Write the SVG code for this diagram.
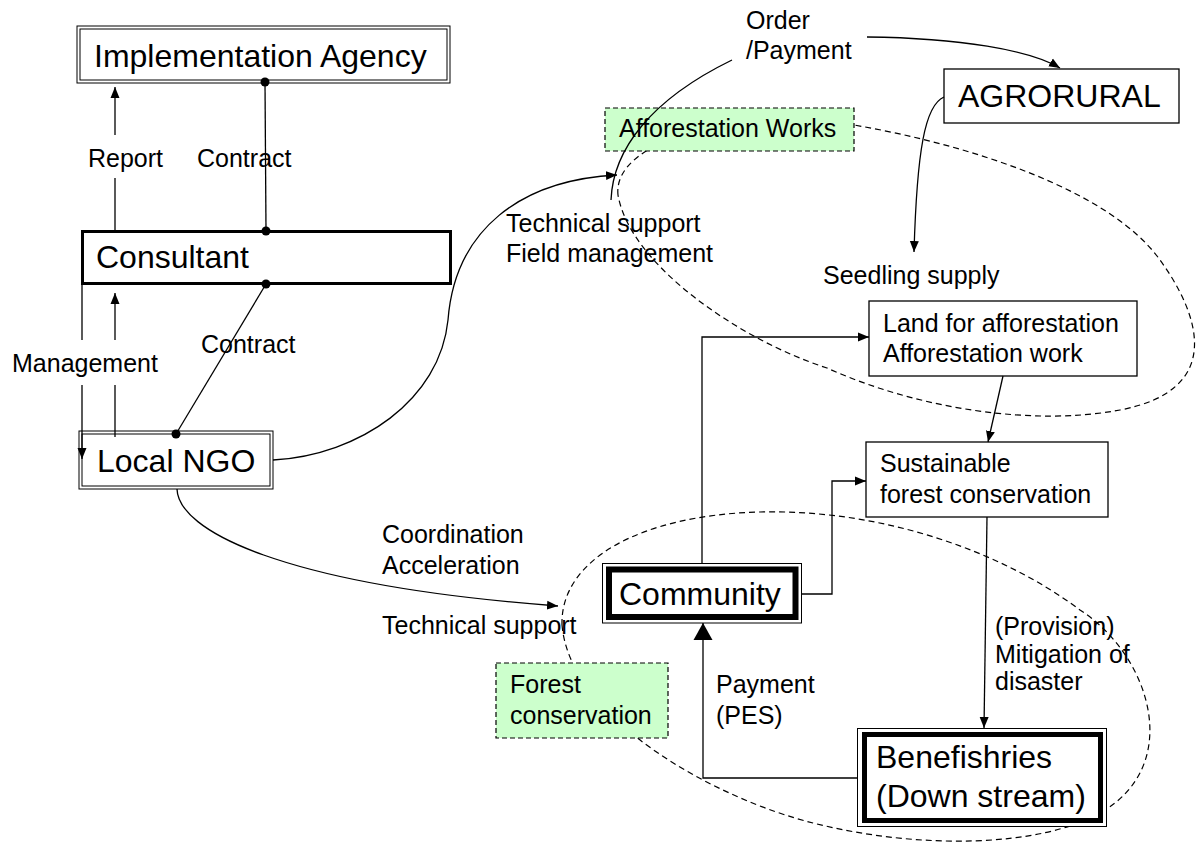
<svg xmlns="http://www.w3.org/2000/svg" width="1200" height="847" viewBox="0 0 1200 847">
<style>
text{font-family:"Liberation Sans",Arial,sans-serif;fill:#000}
.big{font-size:32px}
.lbl{font-size:25px}
.box{fill:#fff;stroke:#000;stroke-width:1.3}
.thin{fill:#fff;stroke:#000;stroke-width:1}
.thick{fill:none;stroke:#000}
.green{fill:#ccffcc;stroke:#000;stroke-width:1.2;stroke-dasharray:5,3}
.region{fill:none;stroke:#000;stroke-width:1.2;stroke-dasharray:6,4}
.c{fill:none;stroke:#000;stroke-width:1.3}
.a{marker-end:url(#arr)}
</style>
<defs>
<marker id="arr" markerUnits="userSpaceOnUse" markerWidth="11" markerHeight="10" refX="11" refY="5" orient="auto">
<path d="M0,0.5 L11,5 L0,9.5 z" fill="#000"/>
</marker>
<marker id="arrBig" markerUnits="userSpaceOnUse" markerWidth="17" markerHeight="20" refX="17" refY="10" orient="auto">
<path d="M0,0.5 L17,10 L0,19.5 z" fill="#000"/>
</marker>
</defs>

<g id="regions">
<path class="region" d="M618,195 C612,140 740,105 854,125 C970,145 1110,190 1160,260 C1200,315 1225,390 1120,410 C1036,426 920,410 827,368 C740,340 630,265 618,195 Z"/>
<path class="region" d="M562,625 C560,560 640,515 760,512 C880,509 1000,550 1080,610 C1150,655 1185,765 1100,813 C1040,847 920,850 813,823 C717,799 570,720 562,625 Z"/>
</g>

<g id="implementation-agency">
<rect class="thin" x="77" y="26" width="373" height="57"/>
<rect class="thin" x="80" y="29" width="367" height="51"/>
<text class="big" x="94" y="67">Implementation Agency</text>
</g>

<g id="consultant">
<rect class="thick" x="82.5" y="231.5" width="368" height="52" stroke-width="3" fill="#fff"/>
<text class="big" x="96" y="268">Consultant</text>
</g>

<g id="local-ngo">
<rect class="thin" x="79" y="431" width="194" height="58"/>
<rect class="thin" x="82" y="434" width="188" height="52"/>
<text class="big" x="97" y="472">Local NGO</text>
</g>

<g id="agrorural">
<rect class="box" x="944" y="69" width="235" height="54"/>
<text class="big" x="958" y="107">AGRORURAL</text>
</g>

<g id="afforestation-works">
<rect class="green" x="605" y="108" width="249" height="43"/>
<text class="lbl" x="619" y="137">Afforestation Works</text>
</g>

<g id="land-for-afforestation">
<rect class="box" x="869" y="301" width="268" height="75"/>
<text class="lbl" x="883" y="332">Land for afforestation</text>
<text class="lbl" x="883" y="362">Afforestation work</text>
</g>

<g id="sustainable-forest-conservation">
<rect class="box" x="866" y="442" width="242" height="75"/>
<text class="lbl" x="880" y="472">Sustainable</text>
<text class="lbl" x="880" y="503">forest conservation</text>
</g>

<g id="community">
<rect class="thin" x="602.5" y="563.5" width="199" height="59.5"/>
<rect class="thick" x="609" y="569.5" width="186.5" height="47.5" stroke-width="6"/>
<text class="big" x="619" y="605">Community</text>
</g>

<g id="forest-conservation">
<rect class="green" x="496" y="663" width="172" height="75"/>
<text class="lbl" x="510" y="693">Forest</text>
<text class="lbl" x="510" y="724">conservation</text>
</g>

<g id="benefishries">
<rect class="thin" x="857.5" y="728.5" width="249" height="98"/>
<rect class="thick" x="864.5" y="734.5" width="236" height="86" stroke-width="5"/>
<text class="big" x="876" y="768">Benefishries</text>
<text class="big" x="876" y="807">(Down stream)</text>
</g>

<g id="connectors">
<line class="c" x1="265" y1="82" x2="266" y2="231"/>
<circle cx="265" cy="82" r="4.5"/>
<circle cx="266" cy="231" r="4.5"/>
<line class="c" x1="115" y1="230" x2="115" y2="178"/>
<line class="c a" x1="115" y1="135" x2="115" y2="87"/>
<line class="c" x1="82" y1="285" x2="82" y2="340"/>
<line class="c a" x1="82" y1="385" x2="82" y2="459"/>
<line class="c" x1="115" y1="437" x2="115" y2="385"/>
<line class="c a" x1="115" y1="340" x2="115" y2="293"/>
<line class="c" x1="266" y1="284" x2="176" y2="434"/>
<circle cx="266" cy="284" r="4.5"/>
<circle cx="176" cy="434" r="4.5"/>
<path class="c a" d="M273,460 C360,455 440,400 448,320 C455,230 520,180 617,175"/>
<path class="c" d="M611,200 C613,150 650,100 732,60"/>
<path class="c a" d="M867,37 C960,38 1030,50 1060,68"/>
<path class="c a" d="M944,97 C925,105 917,150 914,252"/>
<line class="c a" x1="1003" y1="376" x2="988" y2="442"/>
<polyline class="c a" points="702,563 702,337 869,337"/>
<polyline class="c a" points="802,594 832,594 832,481 866,481"/>
<line class="c a" x1="987" y1="517" x2="984" y2="728"/>
<polyline class="c" points="857,778 703,778 703,623" marker-end="url(#arrBig)"/>
<path class="c a" d="M177,489 C178,530 280,585 558,606"/>
</g>

<g id="labels">
<text class="lbl" x="88" y="167">Report</text>
<text class="lbl" x="197" y="167">Contract</text>
<text class="lbl" x="12" y="372">Management</text>
<text class="lbl" x="201" y="353">Contract</text>
<text class="lbl" x="506" y="232">Technical support</text>
<text class="lbl" x="506" y="262">Field management</text>
<text class="lbl" x="746" y="29">Order</text>
<text class="lbl" x="746" y="59">/Payment</text>
<text class="lbl" x="823" y="284">Seedling supply</text>
<text class="lbl" x="382" y="543">Coordination</text>
<text class="lbl" x="382" y="574">Acceleration</text>
<text class="lbl" x="382" y="634">Technical support</text>
<text class="lbl" x="716" y="693">Payment</text>
<text class="lbl" x="716" y="724">(PES)</text>
<text class="lbl" x="995" y="635">(Provision)</text>
<text class="lbl" x="995" y="663">Mitigation of</text>
<text class="lbl" x="995" y="690">disaster</text>
</g>
</svg>
